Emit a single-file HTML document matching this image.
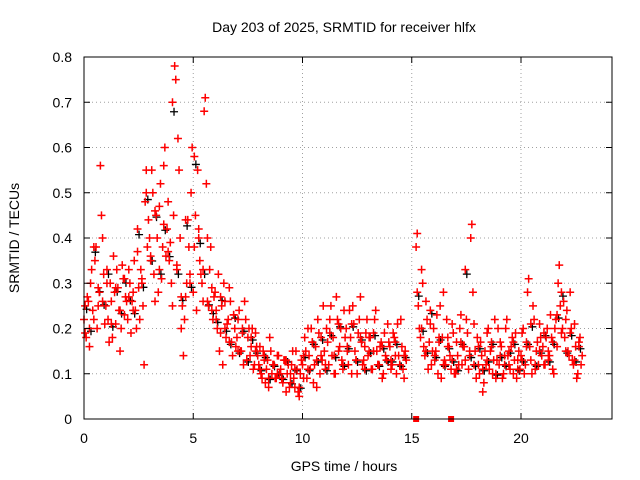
<!DOCTYPE html>
<html><head><meta charset="utf-8"><style>
body{margin:0;background:#fff}
svg{display:block;font-family:"Liberation Sans",sans-serif}
</style></head><body>
<svg id="chart" width="640" height="480" viewBox="0 0 640 480"></svg>
<script>
const xTicks=[0,5,10,15,20];
const yTicks=[0,0.1,0.2,0.3,0.4,0.5,0.6,0.7,0.8];
const yTickLabels=["0","0.1","0.2","0.3","0.4","0.5","0.6","0.7","0.8"];
const redStart=0, redStep=0.1;
const redValues=[.22,.18,.26,.30,.24,.35,.20,.28,.45,.32,
.25,.22,.30,.18,.28,.33,.24,.20,.31,.27,
.22,.30,.26,.35,.20,.29,.33,.25,.48,.38,
.40,.55,.32,.45,.28,.52,.38,.60,.42,.35,
.30,.45,.75,.62,.40,.25,.22,.30,.38,.50,
.28,.45,.55,.35,.30,.68,.52,.25,.38,.22,
.28,.20,.15,.25,.30,.18,.22,.26,.14,.20,
.18,.24,.15,.12,.22,.18,.14,.20,.12,.16,
.12,.10,.15,.08,.13,.18,.10,.12,.09,.14,
.11,.08,.13,.10,.07,.12,.09,.15,.06,.10,
.12,.18,.09,.14,.20,.08,.16,.22,.10,.13,
.15,.20,.12,.25,.18,.10,.22,.16,.13,.24,
.20,.12,.18,.25,.15,.10,.22,.17,.13,.19,
.14,.18,.11,.22,.15,.12,.17,.10,.14,.21,
.16,.12,.18,.10,.14,.22,.11,.15,null,null,
null,null,.38,.25,.18,.30,.14,.22,.17,.12,
.20,.15,.10,.25,.18,.13,.22,.16,.11,.19,
.10,.14,.20,.12,.16,.22,.11,.40,.28,.15,
.18,.10,.14,.08,.12,.20,.15,.10,.22,.13,
.12,.16,.10,.20,.14,.11,.18,.13,.09,.15,
.14,.20,.12,.28,.16,.10,.22,.15,.12,.18,
.16,.12,.20,.14,.18,.10,.22,.30,.25,.20,
.18,.24,.14,.20,.12,.16,.10,.18,.14];
const red2Start=0.05, red2Step=0.2;
const red2Values=[.25,.20,.38,.29,.26,.33,.21,.29,.24,.31,
.27,.24,.42,.30,.50,.36,.46,.33,.43,.37,
.70,.33,.27,.44,.30,.58,.40,.33,.26,.24,
.22,.27,.20,.17,.23,.15,.20,.13,.18,.15,
.11,.14,.09,.12,.10,.09,.13,.08,.11,.07,
.14,.11,.17,.13,.18,.11,.19,.14,.21,.12,
.16,.21,.13,.18,.11,.15,.19,.12,.16,.13,
.13,.17,.12,.14,null,null,.28,.20,.15,.24,
.14,.18,.12,.16,.13,.11,.17,.33,.14,.12,
.16,.11,.13,.17,.10,.14,.12,.15,.17,.11,
.13,.17,.21,.12,.15,.19,.13,.17,.23,.28,
.15,.19,.13,.16];
const red3Start=0.05, red3Step=0.1;
const red3Values=[.19,.27,.16,.33,.22,.38,.25,.56,.40,.21,
.30,.17,.26,.36,.21,.29,.15,.34,.23,.26,
.33,.19,.28,.24,.37,.22,.31,.12,.55,.44,
.35,.50,.26,.40,.47,.31,.56,.36,.48,.39,
.25,.78,.34,.55,.20,.14,.27,.44,.32,.60,
.38,.24,.42,.32,.26,.71,.40,.33,.29,.27,
.24,.32,.19,.12,.26,.21,.29,.17,.23,.16,
.22,.15,.19,.26,.13,.20,.16,.11,.19,.14,
.16,.09,.13,.11,.07,.15,.12,.09,.14,.10,
.09,.13,.06,.12,.10,.15,.07,.11,.05,.13,
.09,.15,.20,.11,.17,.12,.07,.19,.14,.25,
.12,.17,.22,.14,.10,.27,.15,.20,.11,.18,
.15,.24,.10,.21,.13,.19,.27,.12,.16,.22,
.18,.11,.15,.24,.12,.16,.09,.19,.13,.17,
.11,.19,.14,.21,.12,.16,.09,.13,null,null,
null,null,.41,.20,.33,.16,.26,.11,.21,.15,
.13,.23,.17,.09,.28,.12,.18,.14,.21,.10,
.17,.12,.23,.16,.13,.19,.15,.43,.21,.09,
.12,.17,.06,.15,.19,.11,.16,.13,.09,.20,
.17,.09,.14,.22,.12,.16,.10,.19,.13,.11,
.19,.10,.16,.31,.13,.25,.11,.17,.21,.14,
.12,.18,.15,.23,.11,.20,.16,.34,.19,.26,
.22,.15,.28,.13,.21,.09,.17,.12];
const markerTimes=[15.2,16.8];

const L=84,R=612,T=57,B=419;
const xs=v=>L+v*(521-84)/20;
const ys=v=>B-v*(B-T)/0.8;
const svg=document.getElementById('chart');
const NS='http://www.w3.org/2000/svg';
function mk(tag,attrs,parent){const e=document.createElementNS(NS,tag);for(const k in attrs)e.setAttribute(k,attrs[k]);(parent||svg).appendChild(e);return e;}

const grid=mk('g',{});


xTicks.forEach(t=>{if(t>0)mk('line',{x1:xs(t),x2:xs(t),y1:T,y2:B,stroke:'#a0a0a0','stroke-dasharray':'1,3'},grid);});
yTicks.forEach(t=>{if(t>0&&t<0.8)mk('line',{x1:L,x2:R,y1:ys(t),y2:ys(t),stroke:'#a0a0a0','stroke-dasharray':'1,3'},grid);});

function plus(t,v,g){const x=xs(t),y=ys(v);mk('path',{d:`M${x-4},${y}h8M${x},${y-4}v8`},g);}
const blk=mk('g',{stroke:'#000','stroke-width':1.3,fill:'none'});


red2Values.forEach((v,i)=>{if(v!=null)plus(red2Start+i*red2Step+0.07,v*0.97,blk);});
const pts=mk('g',{stroke:'#ff0000','stroke-width':1.5,fill:'none'});


redValues.forEach((v,i)=>{if(v!=null)plus(redStart+i*redStep,v,pts);});
red2Values.forEach((v,i)=>{if(v!=null)plus(red2Start+i*red2Step,v,pts);});
red3Values.forEach((v,i)=>{if(v!=null)plus(red3Start+i*red3Step,v,pts);});
markerTimes.forEach(t=>{const r=mk('rect',{x:xs(t)-3,y:ys(0)-3,width:6,height:6,fill:'#ff0000'});

});

const frame=mk('rect',{x:L,y:T,width:R-L,height:B-T,fill:'none',stroke:'#000'});


const ax=mk('g',{'font-size':14,fill:'#000'});


xTicks.forEach(t=>{mk('line',{x1:xs(t),x2:xs(t),y1:B,y2:B-6,stroke:'#000'},ax);mk('line',{x1:xs(t),x2:xs(t),y1:T,y2:T+6,stroke:'#000'},ax);
const tx=mk('text',{x:xs(t),y:443,'text-anchor':'middle'},ax);tx.textContent=t;});
yTicks.forEach((t,i)=>{mk('line',{x1:L,x2:L+6,y1:ys(t),y2:ys(t),stroke:'#000'},ax);mk('line',{x1:R,x2:R-6,y1:ys(t),y2:ys(t),stroke:'#000'},ax);
const tx=mk('text',{x:72,y:ys(t)+5,'text-anchor':'end'},ax);tx.textContent=yTickLabels[i];});
const title=mk('text',{x:344,y:32,'text-anchor':'middle','font-size':14});

title.textContent='Day 203 of 2025, SRMTID for receiver hlfx';
const xl=mk('text',{x:344,y:471,'text-anchor':'middle','font-size':14});

xl.textContent='GPS time / hours';
const yl=mk('text',{x:19,y:238,'text-anchor':'middle','font-size':14,transform:'rotate(-90 19 238)'});

yl.textContent='SRMTID / TECUs';
</script>
</body></html>
